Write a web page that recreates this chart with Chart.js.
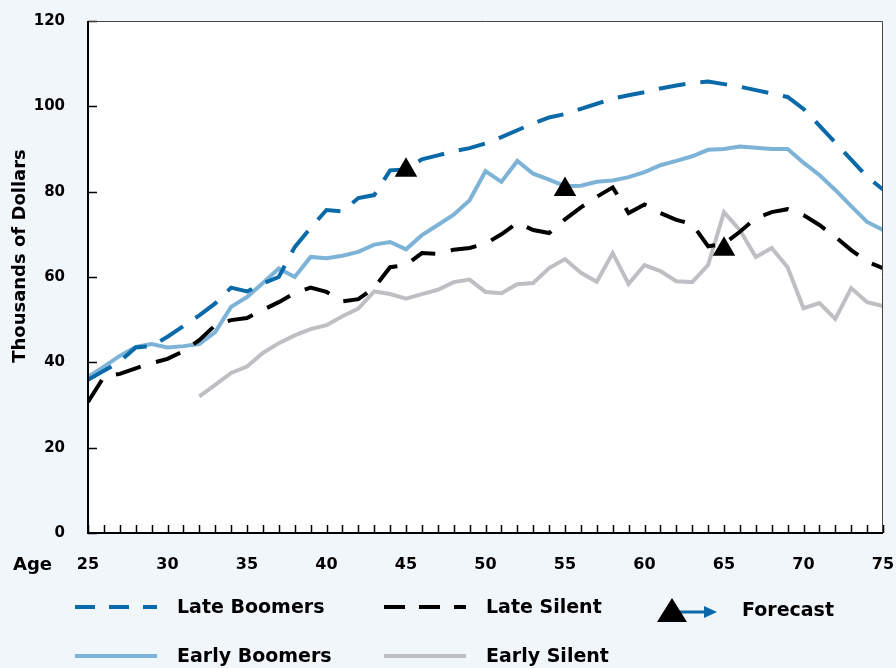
<!DOCTYPE html>
<html>
<head>
<meta charset="utf-8">
<script src="https://cdn.jsdelivr.net/npm/chart.js@4.4.1/dist/chart.umd.min.js"></script>
<style>
  html, body { margin: 0; padding: 0; background: #f1f6fb; }
  #wrap { position: relative; width: 896px; height: 668px; }
</style>
</head>
<body>
<div id="wrap"><canvas id="incomeChart"></canvas></div>
<script>
// Ages on the x axis (one point per year)
const ages = [25, 26, 27, 28, 29, 30, 31, 32, 33, 34, 35, 36, 37, 38, 39, 40, 41, 42, 43, 44,
              45, 46, 47, 48, 49, 50, 51, 52, 53, 54, 55, 56, 57, 58, 59, 60, 61, 62, 63, 64,
              65, 66, 67, 68, 69, 70, 71, 72, 73, 74, 75];

// Thousands of dollars
const lateBoomers = [35.9, 38, 40.2, 43.5, 43.8, 46, 48.5, 51, 53.8, 57.5,
                     56.6, 58.5, 60, 67, 71.5, 75.7, 75.4, 78.5, 79.2, 85,
                     85.2, 87.6, 88.5, 89.5, 90.2, 91.3, 92.8, 94.4, 96, 97.4,
                     98.2, 99.4, 100.6, 101.8, 102.6, 103.3, 104.2, 104.9, 105.5, 105.8,
                     105.2, 104.6, 103.8, 103, 102.2, 99.4, 95.5, 91.5, 87.5, 83.5, 80.5];
const earlyBoomers = [36.6, 39, 41.5, 43.6, 44.3, 43.5, 43.8, 44.3, 47.1, 53,
                      55.3, 58.6, 62, 60, 64.7, 64.4, 65, 65.9, 67.6, 68.2,
                      66.5, 69.8, 72.2, 74.6, 78, 84.8, 82.3, 87.2, 84.2, 82.8,
                      81.3, 81.4, 82.3, 82.6, 83.4, 84.6, 86.2, 87.2, 88.3, 89.8,
                      90, 90.6, 90.3, 90, 90, 86.8, 83.9, 80.4, 76.6, 72.9, 71];
const lateSilent = [30.7, 36.6, 37.3, 38.6, 39.8, 40.8, 42.6, 45.2, 48.7, 49.9,
                    50.4, 52.3, 54.1, 56.2, 57.5, 56.5, 54.3, 54.8, 57.5, 62.3,
                    62.8, 65.6, 65.4, 66.4, 66.8, 67.8, 70, 72.7, 71, 70.3,
                    73.5, 76.3, 78.8, 81, 75, 77, 75, 73.4, 72.4, 67.2,
                    67.8, 70.6, 73.8, 75.2, 75.9, 74.5, 72.2, 69.4, 66.3, 63.6, 62.1];
const earlySilent = [null, null, null, null, null, null, null, 32, 34.7, 37.5,
                     39, 42.2, 44.5, 46.3, 47.8, 48.7, 50.8, 52.6, 56.6, 56,
                     54.9, 56, 57, 58.8, 59.4, 56.5, 56.2, 58.3, 58.6, 62.1,
                     64.2, 61, 58.9, 65.6, 58.4, 62.8, 61.4, 59, 58.8, 62.8,
                     75.2, 71, 64.7, 66.8, 62.3, 52.7, 53.9, 50.2, 57.4, 54.1, 53.2];

// Forecast start markers
const forecastAges = [45, 55, 65];
const forecastValues = [85, 80.5, 66.5];

const C_LATE_BOOM = '#0a69a8';
const C_EARLY_BOOM = '#7db3d6';
const C_LATE_SIL = '#000000';
const C_EARLY_SIL = '#bfbfc3';
const FONT = "'DejaVu Sans', sans-serif";

const toPoints = (xs, ys) => xs.map((x, i) => ({ x: x, y: ys[i] }));

// drop the extra room chart.js keeps for overhanging tick labels
const noLabelPadding = s => {
    s.paddingLeft = 0; s.paddingRight = 0; s.paddingTop = 0; s.paddingBottom = 0;
};

// Plot frame, inner tick marks, axis captions and the legend
const framePlugin = {
    id: 'frame',
    beforeDatasetsDraw(chart) {
        const { ctx, chartArea: a } = chart;
        ctx.save();
        ctx.fillStyle = '#ffffff';
        ctx.fillRect(a.left, a.top, a.right - a.left, a.bottom - a.top);
        ctx.restore();
    },
    afterDatasetsDraw(chart) {
        const { ctx, chartArea: a, scales } = chart;
        ctx.save();
        // inner ticks
        ctx.strokeStyle = '#000';
        ctx.lineWidth = 1.5;
        ctx.beginPath();
        ages.forEach(age => {
            const px = Math.round(scales.x.getPixelForValue(age)) + 0.5;
            ctx.moveTo(px, a.bottom);
            ctx.lineTo(px, a.bottom - 8);
        });
        scales.y.ticks.forEach(t => {
            const py = Math.round(scales.y.getPixelForValue(t.value)) + 0.5;
            ctx.moveTo(a.left, py);
            ctx.lineTo(a.left + 9, py);
        });
        ctx.stroke();
        // frame
        ctx.strokeStyle = '#444';
        ctx.lineWidth = 1;
        ctx.beginPath();
        ctx.moveTo(a.left, a.top + 0.5);
        ctx.lineTo(a.right - 0.5, a.top + 0.5);
        ctx.lineTo(a.right - 0.5, a.bottom);
        ctx.stroke();
        ctx.strokeStyle = '#000';
        ctx.lineWidth = 2;
        ctx.beginPath();
        ctx.moveTo(a.left, a.top);
        ctx.lineTo(a.left, a.bottom);
        ctx.lineTo(a.right, a.bottom);
        ctx.stroke();
        ctx.restore();
    },
    afterDraw(chart) {
        const { ctx } = chart;
        ctx.save();
        ctx.fillStyle = '#000';
        // y title
        ctx.font = 'bold 18px ' + FONT;
        ctx.textAlign = 'center';
        ctx.textBaseline = 'middle';
        ctx.translate(20, 256);
        ctx.rotate(-Math.PI / 2);
        ctx.fillText('Thousands of Dollars', 0, 0);
        ctx.setTransform(1, 0, 0, 1, 0, 0);
        // x caption
        ctx.textAlign = 'left';
        ctx.fillText('Age', 13, 565);

        // legend
        const rows = [607, 656];
        const items = [
            { x: 75, y: rows[0], color: C_LATE_BOOM, dash: [20, 14], text: 'Late Boomers' },
            { x: 75, y: rows[1], color: C_EARLY_BOOM, dash: [], text: 'Early Boomers' },
            { x: 384, y: rows[0], color: C_LATE_SIL, dash: [21, 14], text: 'Late Silent' },
            { x: 384, y: rows[1], color: C_EARLY_SIL, dash: [], text: 'Early Silent' }
        ];
        ctx.font = 'bold 19px ' + FONT;
        ctx.textBaseline = 'middle';
        items.forEach(it => {
            ctx.strokeStyle = it.color;
            ctx.lineWidth = 4;
            ctx.setLineDash(it.dash);
            ctx.beginPath();
            ctx.moveTo(it.x, it.y);
            ctx.lineTo(it.x + 82, it.y);
            ctx.stroke();
            ctx.setLineDash([]);
            ctx.fillText(it.text, it.x + 102, it.y + 1);
        });
        // forecast key
        ctx.strokeStyle = C_LATE_BOOM;
        ctx.lineWidth = 3;
        ctx.beginPath();
        ctx.moveTo(680, 612);
        ctx.lineTo(708, 612);
        ctx.stroke();
        ctx.fillStyle = C_LATE_BOOM;
        ctx.beginPath();
        ctx.moveTo(717, 612);
        ctx.lineTo(704, 606);
        ctx.lineTo(704, 618);
        ctx.closePath();
        ctx.fill();
        ctx.fillStyle = '#000';
        ctx.beginPath();
        ctx.moveTo(672, 598);
        ctx.lineTo(687, 622);
        ctx.lineTo(657, 622);
        ctx.closePath();
        ctx.fill();
        ctx.fillText('Forecast', 742, 611);
        ctx.restore();
    }
};

const ctx = document.getElementById('incomeChart').getContext('2d');
new Chart(ctx, {
    type: 'line',
    data: {
        datasets: [
            {
                label: 'Forecast',
                data: toPoints(forecastAges, forecastValues),
                showLine: false,
                pointStyle: 'triangle',
                pointRadius: 13,
                backgroundColor: '#000',
                borderColor: '#000',
                borderWidth: 0
            },
            {
                label: 'Late Boomers',
                data: toPoints(ages, lateBoomers),
                borderColor: C_LATE_BOOM,
                borderWidth: 4,
                borderDash: [27, 15],
                pointRadius: 0,
                tension: 0
            },
            {
                label: 'Late Silent',
                data: toPoints(ages, lateSilent),
                borderColor: C_LATE_SIL,
                borderWidth: 4,
                borderDash: [26, 16],
                pointRadius: 0,
                tension: 0
            },
            {
                label: 'Early Boomers',
                data: toPoints(ages, earlyBoomers),
                borderColor: C_EARLY_BOOM,
                borderWidth: 4,
                pointRadius: 0,
                tension: 0
            },
            {
                label: 'Early Silent',
                data: toPoints(ages, earlySilent),
                borderColor: C_EARLY_SIL,
                borderWidth: 4,
                pointRadius: 0,
                spanGaps: false,
                tension: 0
            }
        ]
    },
    options: {
        responsive: true,
        maintainAspectRatio: false,
        animation: false,
        layout: { padding: { top: 21, right: 11, left: 0, bottom: 0 } },
        plugins: {
            legend: { display: false },
            tooltip: { enabled: false }
        },
        scales: {
            x: {
                type: 'linear',
                min: 25,
                max: 75,
                grid: { display: false, drawTicks: false },
                border: { display: false },
                ticks: { stepSize: 5, padding: 22, color: '#000', font: { family: FONT, size: 16, weight: 'bold' } },
                afterFit: s => { s.height = 135; noLabelPadding(s); }
            },
            y: {
                min: 0,
                max: 120,
                grid: { display: false, drawTicks: false },
                border: { display: false },
                ticks: { stepSize: 20, padding: 23, color: '#000', font: { family: FONT, size: 15, weight: 'bold' } },
                afterFit: s => { s.width = 88; noLabelPadding(s); }
            }
        }
    },
    plugins: [framePlugin]
});
</script>
</body>
</html>
